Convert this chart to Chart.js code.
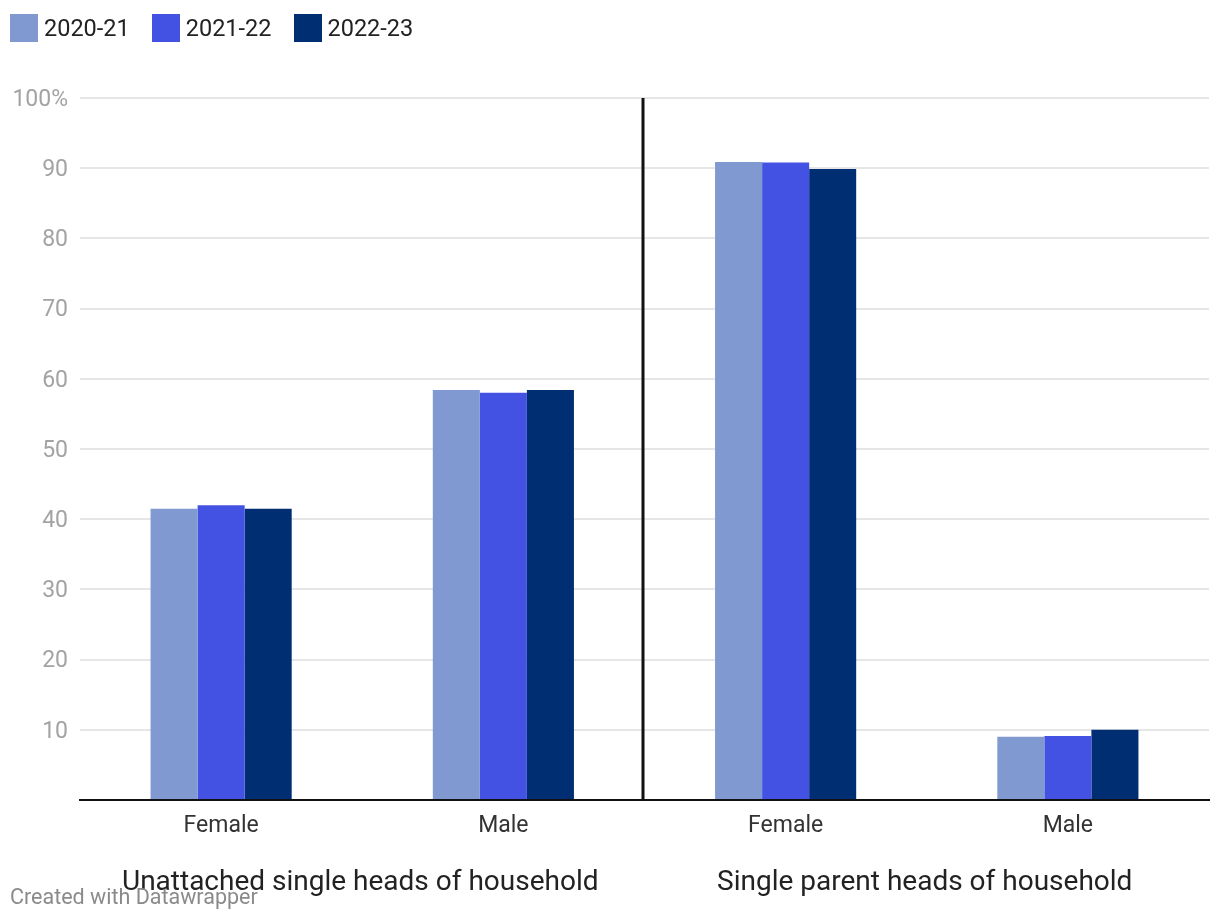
<!DOCTYPE html>
<html>
<head>
<meta charset="utf-8">
<script src="https://cdn.jsdelivr.net/npm/chart.js@4/dist/chart.umd.min.js"></script>
<style>
  html,body{margin:0;padding:0;background:#fff;font-family:Roboto, "Liberation Sans", sans-serif;}
  #wrap{position:relative;width:1220px;height:922px;}
  #legend{position:absolute;left:10px;top:14px;display:flex;gap:0;}
  .item{display:flex;align-items:center;margin-right:22px;font-size:23.5px;color:#222;line-height:28px;}
  .sw{width:28px;height:28px;margin-right:6px;}
</style>
</head>
<body>
<div id="wrap">
  <canvas id="c" width="1220" height="922"></canvas>
  <div id="legend"></div>
</div>
<script>
const categories = ["Female", "Male", "Female", "Male"];
const groups = ["Unattached single heads of household", "Single parent heads of household"];
const seriesNames = ["2020-21", "2021-22", "2022-23"];
const s2020 = [41.5, 58.4, 90.9, 9.0];
const s2021 = [42.0, 58.0, 90.8, 9.1];
const s2022 = [41.5, 58.4, 89.9, 10.0];
const colors = ["#8099d0", "#4352e3", "#002e72"];
const yTicks = [0, 10, 20, 30, 40, 50, 60, 70, 80, 90, 100];

const values = [s2020, s2021, s2022];
const legend = document.getElementById('legend');
seriesNames.forEach((n, i) => {
  const d = document.createElement('div'); d.className = 'item';
  const s = document.createElement('div'); s.className = 'sw'; s.style.background = colors[i];
  const t = document.createElement('span'); t.textContent = n;
  d.appendChild(s); d.appendChild(t); legend.appendChild(d);
});

const extras = {
  id: 'extras',
  afterDatasetsDraw(chart) {
    const ctx = chart.ctx, x = chart.scales.x, a = chart.chartArea;
    const sx = Math.round((x.getPixelForValue(1) + x.getPixelForValue(2)) / 2) - 2;
    ctx.save();
    ctx.strokeStyle = '#111'; ctx.lineWidth = 3;
    ctx.beginPath(); ctx.moveTo(sx, a.top); ctx.lineTo(sx, a.bottom); ctx.stroke();
    ctx.fillStyle = '#222'; ctx.font = '28px Roboto'; ctx.textAlign = 'center'; ctx.textBaseline = 'middle';
    ctx.fillText(groups[0], (x.getPixelForValue(0) + x.getPixelForValue(1)) / 2 - 2, 883);
    ctx.fillText(groups[1], (x.getPixelForValue(2) + x.getPixelForValue(3)) / 2 - 2, 883);
    ctx.fillStyle = '#8a8a8a'; ctx.font = '21.5px Roboto'; ctx.textAlign = 'left';
    ctx.fillText('Created with Datawrapper', 10, 899);
    ctx.restore();
  }
};

new Chart(document.getElementById('c'), {
  type: 'bar',
  data: {
    labels: categories,
    datasets: seriesNames.map((n, i) => ({
      label: n, data: values[i], backgroundColor: colors[i],
      categoryPercentage: 0.5, barPercentage: 1.0, borderWidth: 0
    }))
  },
  options: {
    responsive: false, animation: false,
    layout: { padding: { top: 98, right: 11, left: 0, bottom: 0 } },
    plugins: { legend: { display: false }, tooltip: { enabled: false } },
    scales: {
      x: {
        grid: { display: false, drawTicks: false },
        border: { display: true, color: '#111', width: 2 },
        ticks: { color: '#333', font: { size: 23, family: 'Roboto' }, padding: 12 },
        afterFit(s) { s.height = 122; }
      },
      y: {
        min: 0, max: 100,
        afterBuildTicks(s) { s.ticks = yTicks.map(v => ({ value: v })); },
        grid: { color: c => c.tick && c.tick.value === 0 ? 'rgba(0,0,0,0)' : '#e6e6e6', lineWidth: 2, drawTicks: false },
        border: { display: false },
        ticks: {
          color: '#a3a3a3', font: { size: 23, family: 'Roboto' }, padding: 12, labelOffset: 2,
          callback: v => v === 100 ? '100%' : (v === 0 ? '' : String(v))
        },
        afterFit(s) { s.width = 80; }
      }
    }
  },
  plugins: [extras]
});
</script>
</body>
</html>
